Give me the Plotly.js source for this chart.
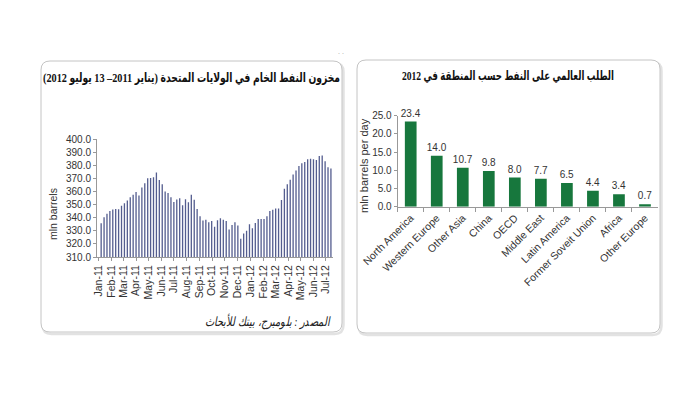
<!DOCTYPE html>
<html>
<head>
<meta charset="utf-8">
<script src="https://cdn.plot.ly/plotly-3.0.1.min.js"></script>
<style>
html,body{margin:0;padding:0;background:#fff;}
#chart{width:700px;height:393px;}
</style>
</head>
<body>
<div id="chart"></div>
<script>
// ---- Data ----
var stockStartDate = '2011-01-07';
var stockValues = [
  335.8, 340.4, 343.0, 345.0, 346.2, 346.7, 346.5, 349.0, 351.0, 353.0,
  355.5, 357.5, 359.5, 357.0, 363.0, 366.2, 370.0, 370.3, 370.8, 374.4,
  368.8, 365.5, 359.9, 358.9, 355.6, 352.0, 353.8, 354.8, 349.5, 354.1,
  351.8, 357.4, 353.6, 346.7, 341.1, 337.8, 338.5, 336.5, 337.5, 333.0,
  338.0, 339.5, 338.5, 337.5, 331.0, 334.5, 336.5, 334.0, 324.0, 328.0,
  330.0, 335.0, 332.0, 336.0, 339.0, 339.0, 339.0, 341.0, 345.0, 346.0,
  347.0, 347.0, 353.5, 362.0, 365.5, 369.0, 373.0, 376.0, 379.5, 381.5,
  382.5, 384.5, 385.0, 384.5, 384.0, 387.0, 387.5, 383.0, 378.5, 377.5
];
var regions = ['North America', 'Western Europe', 'Other Asia', 'China', 'OECD',
  'Middle East', 'Latin America', 'Former Soveit Union', 'Africa', 'Other Europe'];
var demand = [23.4, 14.0, 10.7, 9.8, 8.0, 7.7, 6.5, 4.4, 3.4, 0.7];

var leftTitle = 'مخزون النفط الخام في الولايات المتحدة (يناير 2011– 13 يوليو 2012)';
var rightTitle = 'الطلب العالمي على النفط حسب المنطقة في 2012';
var sourceText = 'المصدر : بلومبرج، بيتك للأبحاث';
var leftYTitle = 'mln barrels';
var rightYTitle = 'mln barrels per day';

// ---- weekly dates for the x categories ----
var weekDates = [];
(function(){
  var d0 = new Date(stockStartDate + 'T00:00:00Z');
  for (var i = 0; i < stockValues.length; i++) {
    var d = new Date(d0.getTime() + i * 7 * 86400000);
    weekDates.push(d.toISOString().slice(0, 10));
  }
})();

var W = 700, H = 393;
function px(x){ return x / W; }
function py(y){ return 1 - y / H; }
function rtl(s){ return '\u202B' + s + '\u202C'; }

function roundRect(x0, y0, x1, y1, r){
  var rx = r / W, ry = r / H;
  var X0 = px(x0), X1 = px(x1), Y0 = py(y0), Y1 = py(y1);
  return 'M' + (X0 + rx) + ',' + Y0 +
    ' L' + (X1 - rx) + ',' + Y0 +
    ' Q' + X1 + ',' + Y0 + ' ' + X1 + ',' + (Y0 - ry) +
    ' L' + X1 + ',' + (Y1 + ry) +
    ' Q' + X1 + ',' + Y1 + ' ' + (X1 - rx) + ',' + Y1 +
    ' L' + (X0 + rx) + ',' + Y1 +
    ' Q' + X0 + ',' + Y1 + ' ' + X0 + ',' + (Y1 + ry) +
    ' L' + X0 + ',' + (Y0 - ry) +
    ' Q' + X0 + ',' + Y0 + ' ' + (X0 + rx) + ',' + Y0 + ' Z';
}

var sans = 'Liberation Sans, Arial, sans-serif';
var serifAr = 'Liberation Serif, DejaVu Sans Condensed, DejaVu Sans, serif';

var traces = [
  {
    type: 'bar', x: weekDates, y: stockValues,
    xaxis: 'x', yaxis: 'y',
    marker: {color: '#545d8f', line: {width: 0}},
    hoverinfo: 'x+y'
  },
  {
    type: 'bar', x: regions, y: demand,
    xaxis: 'x2', yaxis: 'y2',
    marker: {color: '#17773d', line: {width: 0}},
    text: demand.map(function(v){ return v.toFixed(1); }),
    textposition: 'outside', cliponaxis: false, constraintext: 'none',
    textfont: {family: sans, size: 10, color: '#333'},
    hoverinfo: 'x+y'
  }
];

var layout = {
  width: W, height: H,
  margin: {l: 0, r: 0, t: 0, b: 0},
  paper_bgcolor: '#ffffff',
  plot_bgcolor: 'rgba(0,0,0,0)',
  showlegend: false,
  bargap: 0.55,
  xaxis: {
    domain: [px(97), px(333)],
    type: 'date',
    range: ['2010-12-28', '2012-07-18'],
    tick0: '2011-01-01', dtick: 'M1',
    tickformat: '%b-%y', tickangle: -90,
    ticks: 'outside', ticklen: 3, tickcolor: '#999',
    showline: true, linecolor: '#999', linewidth: 1,
    showgrid: false, zeroline: false,
    tickfont: {family: sans, size: 10.5, color: '#333'},
    anchor: 'y'
  },
  yaxis: {
    domain: [py(257), py(139)],
    range: [310, 400], dtick: 10, tickformat: '.1f',
    ticks: 'outside', ticklen: 3, tickcolor: '#999',
    showline: true, linecolor: '#999', linewidth: 1,
    showgrid: false, zeroline: false,
    tickfont: {family: sans, size: 10, color: '#333'},
    anchor: 'x'
  },
  xaxis2: {
    domain: [px(397.7), px(658)],
    type: 'category',
    tickangle: -45,
    ticks: 'outside', ticklen: 4, tickcolor: '#999', tickson: 'boundaries',
    showline: true, linecolor: '#999', linewidth: 1,
    showgrid: false, zeroline: false,
    tickfont: {family: sans, size: 10.5, color: '#333'},
    anchor: 'y2'
  },
  yaxis2: {
    domain: [py(206.7), py(115.7)],
    range: [0, 25], dtick: 5, tickformat: '.1f',
    ticks: 'outside', ticklen: 3, tickcolor: '#999',
    showline: true, linecolor: '#999', linewidth: 1,
    showgrid: false, zeroline: false,
    tickfont: {family: sans, size: 10, color: '#333'},
    anchor: 'x2'
  },
  shapes: [
    {type: 'path', xref: 'paper', yref: 'paper', layer: 'below',
     path: roundRect(42.5, 63, 343.5, 334, 9), line: {color: '#e2e2e2', width: 2.5}, fillcolor: '#ffffff'},
    {type: 'path', xref: 'paper', yref: 'paper', layer: 'below',
     path: roundRect(41, 61, 342, 332, 9), line: {color: '#c4c4c4', width: 1}, fillcolor: '#ffffff'},
    {type: 'path', xref: 'paper', yref: 'paper', layer: 'below',
     path: roundRect(358.5, 62, 661.5, 335, 9), line: {color: '#e2e2e2', width: 2.5}, fillcolor: '#ffffff'},
    {type: 'path', xref: 'paper', yref: 'paper', layer: 'below',
     path: roundRect(357, 60, 660, 333, 9), line: {color: '#c4c4c4', width: 1}, fillcolor: '#ffffff'}
  ],
  annotations: [
    {xref: 'paper', yref: 'paper', x: px(191.5), y: py(78), xanchor: 'center', yanchor: 'middle',
     showarrow: false, text: rtl(leftTitle),
     font: {family: serifAr, size: 13, color: '#111', weight: 'bold'}},
    {xref: 'paper', yref: 'paper', x: px(508), y: py(76), xanchor: 'center', yanchor: 'middle',
     showarrow: false, text: rtl(rightTitle),
     font: {family: serifAr, size: 13, color: '#111', weight: 'bold'}},
    {xref: 'paper', yref: 'paper', x: px(267.5), y: py(321), xanchor: 'center', yanchor: 'middle',
     showarrow: false, text: rtl(sourceText),
     font: {family: serifAr, size: 13, color: '#222', style: 'italic'}},
    {xref: 'paper', yref: 'paper', x: px(53), y: py(214), xanchor: 'center', yanchor: 'middle',
     showarrow: false, text: leftYTitle, textangle: -90,
     font: {family: sans, size: 10.5, color: '#333'}},
    {xref: 'paper', yref: 'paper', x: px(364), y: py(166), xanchor: 'center', yanchor: 'middle',
     showarrow: false, text: rightYTitle, textangle: -90,
     font: {family: sans, size: 11, color: '#333'}},
    {xref: 'paper', yref: 'paper', x: px(341), y: py(51), xanchor: 'center', yanchor: 'middle',
     showarrow: false, text: '. .',
     font: {family: sans, size: 7, color: '#999'}}
  ]
};

// target drawn widths (px) of the Arabic texts, as in the reference
var fitWidths = [[leftTitle, 297], [rightTitle, 212], [sourceText, 125]];

Plotly.newPlot('chart', traces, layout, {staticPlot: true, displayModeBar: false}).then(function(){
  var nodes = document.querySelectorAll('.annotation-text');
  nodes.forEach(function(n){
    var t = n.textContent;
    fitWidths.forEach(function(f){
      if (t.indexOf(f[0]) !== -1) {
        n.setAttribute('textLength', f[1]);
        n.setAttribute('lengthAdjust', 'spacingAndGlyphs');
      }
    });
  });
});
</script>
</body>
</html>
